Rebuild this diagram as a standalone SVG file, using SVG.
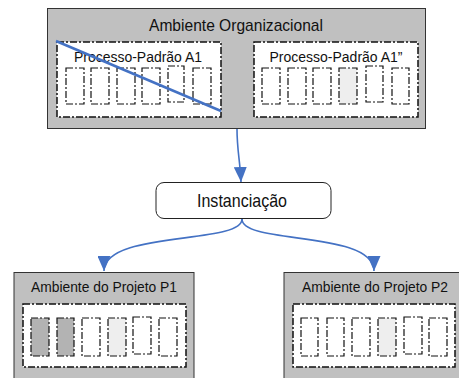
<svg xmlns="http://www.w3.org/2000/svg" width="459" height="378" viewBox="0 0 459 378">
<defs>
<marker id="arr" markerWidth="15" markerHeight="13" refX="15" refY="6.5" orient="auto" markerUnits="userSpaceOnUse" viewBox="0 0 15 13">
<path d="M0,0 L15,6.5 L0,13 Z" fill="#4472C4"/>
</marker>
</defs>
<style>
.env{fill:#c0c0c0;stroke:#333;stroke-width:1}
.inner{fill:#fff;stroke:#111;stroke-width:1.5;stroke-dasharray:7,2,2,2}
.step{fill:#fff;stroke:#111;stroke-width:1.2;stroke-dasharray:7,2,2,2}
.t{font-family:"Liberation Sans",Arial,sans-serif;fill:#111;text-anchor:middle}
.conn{fill:none;stroke:#4472C4;stroke-width:1.6}
</style>
<g id="ambiente-organizacional">
<rect class="env" x="47.5" y="8.5" width="378" height="120"/>
<text class="t" x="236" y="31" font-size="17" textLength="174" lengthAdjust="spacingAndGlyphs">Ambiente Organizacional</text>
</g>
<g id="processo-a1">
<rect class="inner" x="57" y="42" width="164" height="75"/>
<text class="t" x="138" y="61.5" font-size="14" textLength="128" lengthAdjust="spacingAndGlyphs">Processo-Padrão A1</text>
<rect class="step" x="66" y="68" width="18" height="36"/>
<rect class="step" x="91" y="68" width="18" height="36"/>
<rect class="step" x="117" y="68" width="18" height="36"/>
<rect class="step" x="142" y="68" width="18" height="36"/>
<rect class="step" x="168" y="66" width="16" height="36"/>
<rect class="step" x="193" y="68" width="18" height="36"/>
<line x1="56" y1="41" x2="221" y2="111" stroke="#4472C4" stroke-width="2.5"/>
</g>
<g id="processo-a1b">
<rect class="inner" x="254" y="42" width="164" height="75"/>
<text class="t" x="336" y="61.5" font-size="14" textLength="133" lengthAdjust="spacingAndGlyphs">Processo-Padrão A1”</text>
<rect class="step" x="262" y="68" width="18" height="36"/>
<rect class="step" x="288" y="68" width="18" height="36"/>
<rect class="step" x="313" y="68" width="18" height="36"/>
<rect class="step" x="339" y="68" width="18" height="36" style="fill:#eeeeee"/>
<rect class="step" x="366" y="66" width="17" height="36"/>
<rect class="step" x="392" y="68" width="17" height="36"/>
</g>
<g id="instanciacao">
<rect x="156" y="182.5" width="175" height="36" rx="8" fill="#fff" stroke="#222" stroke-width="1"/>
<text class="t" x="242" y="207" font-size="19" textLength="90" lengthAdjust="spacingAndGlyphs">Instanciação</text>
</g>
<g id="projeto-p1">
<rect class="env" x="14" y="272.5" width="180" height="110"/>
<text class="t" x="104" y="292" font-size="15" textLength="146" lengthAdjust="spacingAndGlyphs">Ambiente do Projeto P1</text>
<rect class="inner" x="23" y="304" width="163" height="63"/>
<rect class="step" x="31" y="318" width="18" height="38" style="fill:#b3b3b3"/>
<rect class="step" x="57" y="318" width="17" height="38" style="fill:#b3b3b3"/>
<rect class="step" x="82" y="318" width="18" height="38"/>
<rect class="step" x="108" y="318" width="18" height="38" style="fill:#eeeeee"/>
<rect class="step" x="133" y="317" width="18" height="37"/>
<rect class="step" x="159" y="318" width="18" height="38"/>
</g>
<g id="projeto-p2">
<rect class="env" x="284" y="272.5" width="178" height="110"/>
<text class="t" x="375" y="292" font-size="15" textLength="146" lengthAdjust="spacingAndGlyphs">Ambiente do Projeto P2</text>
<rect class="inner" x="293" y="304" width="162" height="63"/>
<rect class="step" x="301" y="318" width="17" height="38"/>
<rect class="step" x="327" y="318" width="17" height="38"/>
<rect class="step" x="352" y="318" width="18" height="38"/>
<rect class="step" x="378" y="318" width="18" height="38" style="fill:#eeeeee"/>
<rect class="step" x="404" y="317" width="18" height="37"/>
<rect class="step" x="429" y="318" width="18" height="38"/>
</g>
<g id="connectors">
<path class="conn" d="M237,129 C237,150 240,160 241,182" marker-end="url(#arr)"/>
<path class="conn" d="M242,219 C242,245 104,230 104,271" marker-end="url(#arr)"/>
<path class="conn" d="M242,219 C242,245 374,230 374,271" marker-end="url(#arr)"/>
</g>
</svg>
